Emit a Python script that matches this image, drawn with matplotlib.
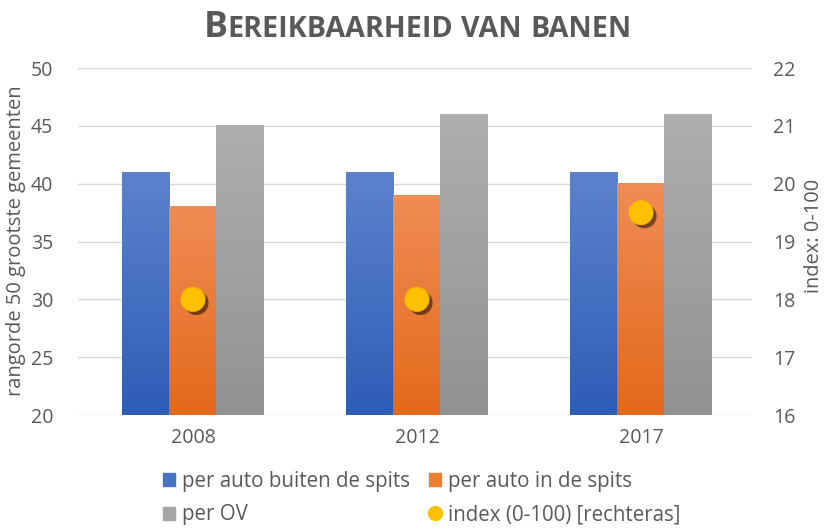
import numpy as np
import matplotlib
matplotlib.use("Agg")
import matplotlib.pyplot as plt
from matplotlib.lines import Line2D
from matplotlib.patches import Patch
import matplotlib.patheffects as pe

plt.rcParams['font.family'] = ['Open Sans', 'DejaVu Sans']

years = ["2008", "2012", "2017"]
auto_buiten = [41, 41, 41]
auto_spits = [38, 39, 40]
per_ov = [45, 46, 46]
index_vals = [18, 18, 19.5]
series_names = ["per auto buiten de spits", "per auto in de spits", "per OV",
                "index (0-100) [rechteras]"]
left_ticks = [20, 25, 30, 35, 40, 45, 50]
right_ticks = [16, 17, 18, 19, 20, 21, 22]

TXT = "#595959"
grads = [("#5d82cc", "#2e5db7"), ("#f08c55", "#e3691a"), ("#aeaeae", "#929292")]
solid = ["#4472c4", "#ed7d31", "#a5a5a5"]

fig = plt.figure(figsize=(8.24, 5.28), dpi=100)
renderer = fig.canvas.get_renderer()

def fit_size(s, target_px, base=12.0, **kw):
    t = fig.text(0, 0, s, fontsize=base, **kw)
    w = t.get_window_extent(renderer).width
    t.remove()
    return base * target_px / w

FS = fit_size("2008", 45)
FS_LEG = fit_size("per auto buiten de spits", 227)
FS_L = fit_size("rangorde 50 grootste gemeenten", 310)
FS_R = fit_size("index: 0-100", 114)

ax = fig.add_axes([0.0947, 0.214, 0.818, 0.657])
ax2 = ax.twinx()

x = np.arange(len(years))
w = 0.21

def hex2rgb(h):
    return np.array(matplotlib.colors.to_rgb(h))

for i, (vals, (ctop, cbot)) in enumerate(zip([auto_buiten, auto_spits, per_ov], grads)):
    bars = ax.bar(x + (i - 1) * w, vals, w, bottom=0, color="none", zorder=2)
    for b in bars:
        x0, y0 = b.get_x(), 20
        x1, y1 = x0 + b.get_width(), b.get_height()
        t = np.linspace(0, 1, 256)[:, None]
        img = (1 - t) * hex2rgb(ctop) + t * hex2rgb(cbot)
        img = img[:, None, :]
        ax.add_patch(plt.Rectangle((x0 + 0.004, y0), b.get_width(), y1 - y0,
                                   color="#000000", alpha=0.12, zorder=2.5, lw=0))
        ax.imshow(img, extent=(x0, x1, y0, y1), aspect="auto", zorder=3,
                  interpolation="bilinear")
ax.set_xlim(-0.513, len(years) - 0.504)
ax.set_ylim(20, 50)

ax2.set_ylim(16, 22)
ax2.plot(x, index_vals, "o", ms=17.5, color="#ffc000", mec="#f5b800", mew=0.5, zorder=5,
         path_effects=[pe.SimplePatchShadow(offset=(2.5, -2.5), shadow_rgbFace="#000000", alpha=0.5),
                       pe.Normal()], linestyle="none")

ax.set_yticks(left_ticks)
ax2.set_yticks(right_ticks)
ax.set_xticks(x)
ax.set_xticklabels(years)
ax.yaxis.grid(True, color="#d9d9d9", lw=1, zorder=0)
ax.set_axisbelow(True)
for a in (ax, ax2):
    for s in a.spines.values():
        s.set_visible(False)
    a.tick_params(length=0, labelsize=FS, labelcolor=TXT)
ax.tick_params(axis="y", pad=18)
ax2.tick_params(axis="y", pad=15)
ax.tick_params(axis="x", pad=9)

fig.text(0.019, 0.545, "rangorde 50 grootste gemeenten", rotation=90, va="center",
         ha="center", fontsize=FS_L, color=TXT)
fig.text(0.988, 0.553, "index: 0-100", rotation=90, va="center", ha="center",
         fontsize=FS_R, color=TXT)

# title in small caps
parts = [("B", 1.0), ("EREIKBAARHEID", 0.8), (" ", 0.8), ("VAN", 0.8), (" ", 0.8),
         ("BANEN", 0.8)]
def title_width(big):
    tot = 0
    for s, r in parts:
        if s == " ":
            tot += big * r * 0.28 / 72 * 100
        else:
            tt = fig.text(0, 0, s, fontsize=big * r, fontweight="bold")
            tot += tt.get_window_extent(renderer).width
            tt.remove()
    return tot
big = 24 * 425 / title_width(24)
texts, widths = [], []
for s, r in parts:
    tt = fig.text(0, 0.930, s, fontsize=big * r, fontweight="bold", color=TXT,
                  ha="left", va="baseline")
    texts.append(tt)
    if s == " ":
        widths.append(big * r * 0.28 / 72 * 100)
    else:
        widths.append(tt.get_window_extent(renderer).width)
xpos = 417.5 - sum(widths) / 2
for tt, wdt in zip(texts, widths):
    tt.set_x(xpos / 824)
    xpos += wdt

handles = [Patch(color=solid[0]), Patch(color=solid[1]), Patch(color=solid[2]),
           Line2D([], [], marker="o", ls="none", color="#ffc000", ms=10)]
order = [0, 2, 1, 3]
leg = fig.legend([handles[i] for i in order], [series_names[i] for i in order],
                 ncol=2, loc="lower center", bbox_to_anchor=(0.512, -0.030), frameon=False,
                 fontsize=FS_LEG, handlelength=0.6, handleheight=0.6, handletextpad=0.35,
                 columnspacing=0.9, labelspacing=0.6)
for t in leg.get_texts():
    t.set_color(TXT)

fig.savefig("out.png", dpi=100)
